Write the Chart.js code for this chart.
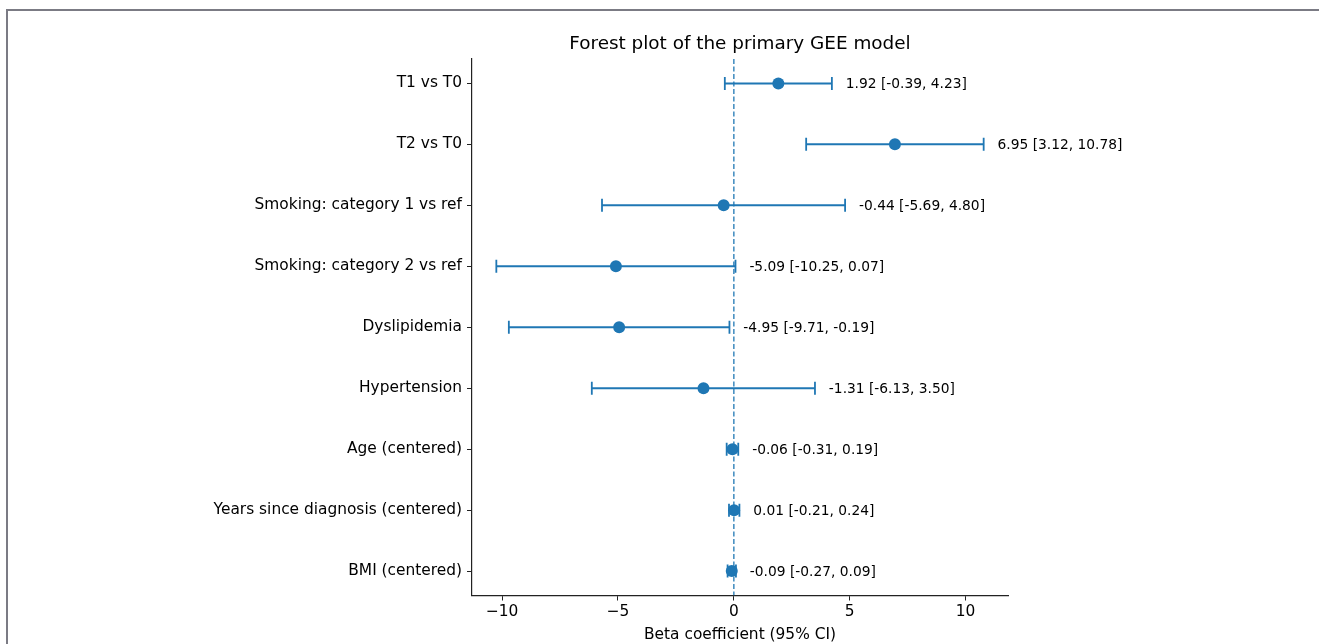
<!DOCTYPE html>
<html lang="en">
<head>
  <meta charset="UTF-8" />
  <title>Forest plot of the primary GEE model</title>
  <style>
    html, body { margin: 0; padding: 0; background: #fff; }
    body { width: 1319px; height: 644px; position: relative; overflow: hidden; }
    .frame {
      position: absolute; left: 6px; top: 9px; right: 0; bottom: 0;
      border-left: 2px solid #7b7b84; border-top: 2px solid #7b7b84;
    }
    #forestChart { position: absolute; left: 0; top: 0; }
  </style>
</head>
<body>
  <div class="frame"></div>
  <canvas id="forestChart" width="1319" height="644"></canvas>

  <script src="https://cdn.jsdelivr.net/npm/chart.js"></script>
  <script>
    // rows top to bottom
    const terms = [
      'T1 vs T0',
      'T2 vs T0',
      'Smoking: category 1 vs ref',
      'Smoking: category 2 vs ref',
      'Dyslipidemia',
      'Hypertension',
      'Age (centered)',
      'Years since diagnosis (centered)',
      'BMI (centered)'
    ];
    const beta  = [1.92, 6.95, -0.44, -5.09, -4.95, -1.31, -0.06, 0.01, -0.09];
    const ciLow = [-0.39, 3.12, -5.69, -10.25, -9.71, -6.13, -0.31, -0.21, -0.27];
    const ciHigh = [4.23, 10.78, 4.80, 0.07, -0.19, 3.50, 0.19, 0.24, 0.09];

    const xTicks = [-10, -5, 0, 5, 10];
    const xTickLabels = ['\u221210', '\u22125', '0', '5', '10'];

    const chartTitle = 'Forest plot of the primary GEE model';
    const xTitle = 'Beta coefficient (95% CI)';

    const BLUE = '#1f77b4';
    const FONT = "'DejaVu Sans', sans-serif";

    const rows = terms.map((_, i) => i);

    // one line per row for the interval, caps drawn as vertical line points
    const ciSets = rows.map(i => ({
      type: 'line',
      data: [{ x: ciLow[i], y: i }, { x: ciHigh[i], y: i }],
      borderColor: BLUE,
      borderWidth: 2,
      pointStyle: 'line',
      rotation: 90,
      pointRadius: 6.5,
      pointBorderColor: BLUE,
      pointBorderWidth: 1.8,
      showLine: true,
      fill: false
    }));

    const pointSet = {
      type: 'scatter',
      data: rows.map(i => ({ x: beta[i], y: i })),
      backgroundColor: BLUE,
      borderColor: BLUE,
      pointRadius: 6,
      pointBorderWidth: 0
    };

    const zeroLine = {
      type: 'line',
      data: [{ x: 0, y: -0.4 }, { x: 0, y: terms.length - 0.6 }],
      borderColor: BLUE,
      borderWidth: 1.3,
      borderDash: [5, 2.5],
      pointRadius: 0,
      showLine: true,
      fill: false
    };

    // title over the plot area and text to the right of each interval
    const labelPlugin = {
      id: 'ciLabels',
      afterDatasetsDraw(chart) {
        const ctx = chart.ctx;
        const xs = chart.scales.x, ys = chart.scales.y;
        const area = chart.chartArea;
        ctx.save();
        ctx.fillStyle = '#000';
        ctx.textBaseline = 'middle';

        ctx.font = '18.4px ' + FONT;
        ctx.textAlign = 'center';
        ctx.fillText(chartTitle, (area.left + area.right) / 2, 44);

        ctx.font = '13.8px ' + FONT;
        ctx.textAlign = 'left';
        rows.forEach(i => {
          const txt = beta[i].toFixed(2) + ' [' + ciLow[i].toFixed(2) + ', ' + ciHigh[i].toFixed(2) + ']';
          ctx.fillText(txt, xs.getPixelForValue(ciHigh[i] + 0.6), ys.getPixelForValue(i) + 1);
        });
        ctx.restore();
      }
    };

    new Chart(document.getElementById('forestChart'), {
      type: 'scatter',
      data: { datasets: [pointSet, ...ciSets, zeroLine] },
      options: {
        responsive: false,
        animation: false,
        layout: { padding: { left: 0, right: 311, top: 59, bottom: 0 } },
        plugins: {
          legend: { display: false },
          tooltip: { enabled: false },
          title: { display: false }
        },
        scales: {
          x: {
            type: 'linear',
            min: -11.3,
            max: 11.83,
            afterBuildTicks: s => { s.ticks = xTicks.map(v => ({ value: v })); },
            afterFit: s => { s.height = 48.5; },
            ticks: {
              color: '#000',
              font: { family: FONT, size: 15.4 },
              padding: 2,
              maxRotation: 0,
              callback: v => xTickLabels[xTicks.indexOf(v)]
            },
            grid: { drawOnChartArea: false, drawTicks: true, tickLength: 5, color: '#222' },
            border: { display: true, color: '#222', width: 1.2 },
            title: {
              display: true,
              text: xTitle,
              color: '#000',
              font: { family: FONT, size: 15.4 },
              padding: { top: 0, bottom: 0 }
            }
          },
          y: {
            type: 'linear',
            reverse: true,
            min: -0.4,
            max: terms.length - 0.6,
            afterBuildTicks: s => { s.ticks = rows.map(v => ({ value: v })); },
            afterFit: s => { s.width = 472; },
            ticks: {
              color: '#000',
              font: { family: FONT, size: 15.4 },
              padding: 5,
              autoSkip: false,
              callback: v => terms[v]
            },
            grid: { drawOnChartArea: false, drawTicks: true, tickLength: 5, color: '#222' },
            border: { display: true, color: '#222', width: 1.2 }
          }
        }
      },
      plugins: [labelPlugin]
    });
  </script>
</body>
</html>
